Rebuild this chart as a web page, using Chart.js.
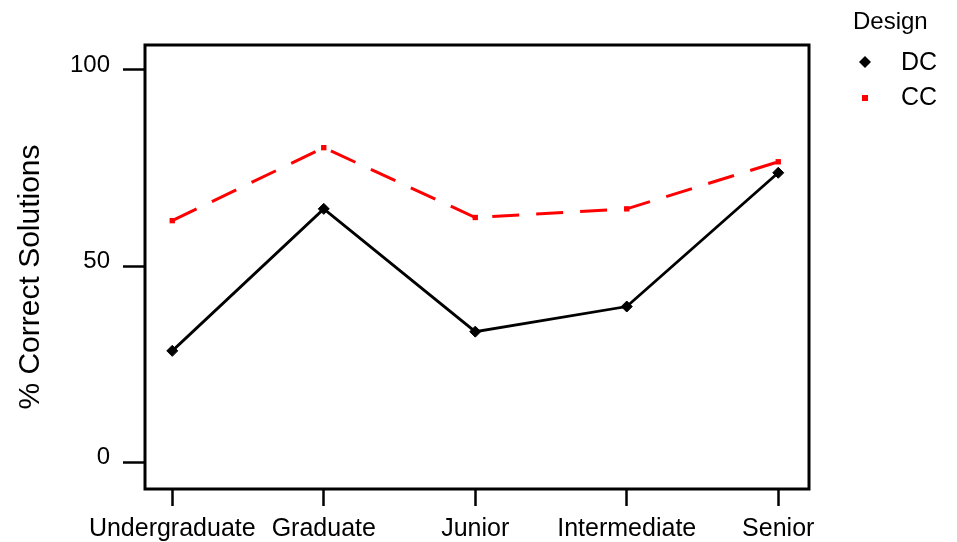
<!DOCTYPE html>
<html>
<head>
<meta charset="utf-8">
<script src="https://cdn.jsdelivr.net/npm/chart.js@4/dist/chart.umd.min.js"></script>
<style>
  body { margin: 0; background: #fff; }
  canvas { display: block; }
</style>
</head>
<body>
<canvas id="designChart" width="957" height="542"></canvas>
<script>
// datos
var categorias = ['Undergraduate', 'Graduate', 'Junior', 'Intermediate', 'Senior'];
var dcValores = [28.4, 64.6, 33.3, 39.7, 73.8];
var ccValores = [61.6, 80.2, 62.4, 64.6, 76.6];
var yTicks = [0, 50, 100];
var serieNombres = ['DC', 'CC'];
var leyendaTitulo = 'Design';
var yTitulo = '% Correct Solutions';

var fuente = '"Liberation Sans", Arial, sans-serif';

function puntos(valores) {
    return valores.map(function (v, i) { return { x: i, y: v }; });
}

// marco, titulo del eje y leyenda
var marcoPlugin = {
    id: 'marco',
    afterDraw: function (chart) {
        var ctx = chart.ctx;
        var a = chart.chartArea;
        ctx.save();
        ctx.strokeStyle = '#000';
        ctx.lineWidth = 3;
        ctx.strokeRect(a.left, a.top, a.right - a.left, a.bottom - a.top);

        // titulo eje y
        ctx.fillStyle = '#000';
        ctx.font = '30px ' + fuente;
        ctx.textAlign = 'center';
        ctx.textBaseline = 'middle';
        ctx.translate(31, 277);
        ctx.rotate(-Math.PI / 2);
        ctx.fillText(yTitulo, 0, 0);
        ctx.restore();

        // leyenda
        ctx.save();
        ctx.fillStyle = '#000';
        ctx.font = '24px ' + fuente;
        ctx.textAlign = 'left';
        ctx.textBaseline = 'middle';
        ctx.fillText(leyendaTitulo, 853, 22);
        ctx.font = '25px ' + fuente;
        ctx.fillText(serieNombres[0], 901, 63);
        ctx.fillText(serieNombres[1], 901, 98);
        // rombo negro
        ctx.beginPath();
        ctx.moveTo(865, 56);
        ctx.lineTo(871, 62);
        ctx.lineTo(865, 68);
        ctx.lineTo(859, 62);
        ctx.closePath();
        ctx.fill();
        // cuadrado rojo
        ctx.fillStyle = '#ff0000';
        ctx.fillRect(862, 95, 6, 6);
        ctx.restore();
    }
};

var ctx = document.getElementById('designChart');
var config = {
    type: 'line',
    data: {
        datasets: [{
            label: serieNombres[0],
            data: puntos(dcValores),
            borderColor: '#000',
            backgroundColor: '#000',
            borderWidth: 2.8,
            pointStyle: 'rectRot',
            pointRadius: 5.5,
            pointBorderWidth: 1,
            pointBackgroundColor: '#000',
            pointBorderColor: '#000',
            tension: 0
        }, {
            label: serieNombres[1],
            data: puntos(ccValores),
            borderColor: '#ff0000',
            backgroundColor: '#ff0000',
            borderWidth: 3,
            borderDash: [27, 17],
            pointStyle: 'rect',
            pointRadius: 3.8,
            pointBorderWidth: 0,
            pointBackgroundColor: '#ff0000',
            tension: 0
        }]
    },
    options: {
        responsive: false,
        animation: false,
        layout: { padding: { left: 0, top: 45, right: 148, bottom: 0 } },
        plugins: {
            legend: { display: false },
            tooltip: { enabled: false }
        },
        scales: {
            x: {
                type: 'linear',
                min: -0.18,
                max: 4.203,
                afterBuildTicks: function (axis) {
                    axis.ticks = categorias.map(function (c, i) { return { value: i }; });
                },
                afterFit: function (scale) { scale.height = 53; },
                border: { display: false },
                grid: {
                    drawOnChartArea: false,
                    drawTicks: true,
                    tickLength: 17,
                    tickWidth: 2.5,
                    tickColor: '#000'
                },
                ticks: {
                    color: '#000',
                    font: { family: fuente, size: 25 },
                    padding: 8,
                    maxRotation: 0,
                    autoSkip: false,
                    callback: function (value) { return categorias[value]; }
                }
            },
            y: {
                type: 'linear',
                min: -6.81,
                max: 106.37,
                afterBuildTicks: function (axis) {
                    axis.ticks = yTicks.map(function (v) { return { value: v }; });
                },
                afterFit: function (scale) { scale.width = 145; },
                border: { display: false },
                grid: {
                    drawOnChartArea: false,
                    drawTicks: true,
                    tickLength: 22,
                    tickWidth: 2.5,
                    tickColor: '#000'
                },
                ticks: {
                    color: '#000',
                    font: { family: fuente, size: 24 },
                    padding: 13,
                    labelOffset: -5
                }
            }
        }
    },
    plugins: [marcoPlugin]
};
window.myChart = new Chart(ctx, config);
</script>
</body>
</html>
